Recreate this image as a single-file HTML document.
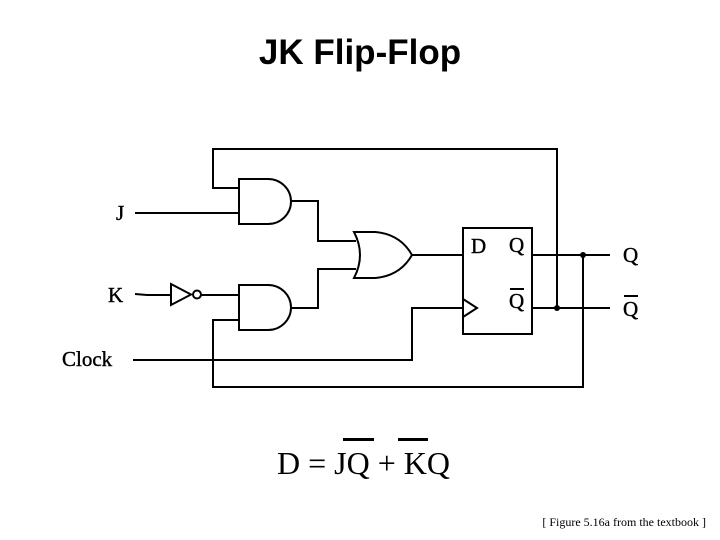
<!DOCTYPE html>
<html><head><style>
body{margin:0;background:#fff;}
</style></head><body>
<svg width="720" height="540" xmlns="http://www.w3.org/2000/svg" style="display:block">
<rect width="720" height="540" fill="#fff"/>
<text x="360" y="64" text-anchor="middle" font-family="Liberation Sans, sans-serif" font-weight="bold" font-size="35">JK Flip-Flop</text>
<g fill="none" stroke="#000" stroke-width="2">
<polyline points="239,188 213,188 213,149 557,149 557,308"/>
<line x1="135" y1="213" x2="239" y2="213"/>
<path d="M239,179 L268,179 A23,22.5 0 0 1 268,224 L239,224 Z"/>
<polyline points="291,201 318,201 318,241 356,241"/>
<path d="M354,232 L375,232 Q400,234 412,255 Q400,276 375,278 L354,278 Q366,255 354,232 Z"/>
<line x1="412" y1="255" x2="463" y2="255"/>
<path d="M239,285 L268,285 A23,22.5 0 0 1 268,330 L239,330 Z"/>
<polyline points="291,308 318,308 318,269 356,269"/>
<polyline points="135,294 147,295 171,295"/>
<path d="M171,284 L191,294.5 L171,305 Z"/>
<circle cx="197" cy="294.5" r="4"/>
<line x1="201" y1="295" x2="239" y2="295"/>
<polyline points="239,320 213,320 213,387 583,387 583,255"/>
<polyline points="133,360 412,360 412,308 463,308"/>
<rect x="463" y="228" width="69" height="106"/>
<polyline points="463,299 477,308 463,317"/>
<line x1="532" y1="255" x2="610" y2="255"/>
<line x1="532" y1="308" x2="610" y2="308"/>
</g>
<circle cx="583" cy="255" r="3"/>
<circle cx="557" cy="308" r="3"/>
<g font-family="Liberation Serif, serif" font-size="21" fill="#000" stroke="#000" stroke-width="0.4">
<text x="116" y="220">J</text>
<text x="108" y="302">K</text>
<text x="62" y="366">Clock</text>
<text x="471" y="253">D</text>
<text x="509" y="252">Q</text>
<text x="509" y="308">Q</text>
<text x="623" y="262">Q</text>
<text x="623" y="316">Q</text>
</g>
<line x1="510" y1="289" x2="524" y2="289" stroke="#000" stroke-width="2"/>
<line x1="624" y1="296" x2="638" y2="296" stroke="#000" stroke-width="2"/>
<text x="277" y="474" font-family="Liberation Serif, serif" font-size="32">D = JQ + KQ</text>
<rect x="343" y="438" width="31" height="3"/>
<rect x="398" y="438" width="30" height="3"/>
<text x="706" y="526" text-anchor="end" font-family="Liberation Serif, serif" font-size="12">[ Figure 5.16a from the textbook ]</text>
</svg>
</body></html>
